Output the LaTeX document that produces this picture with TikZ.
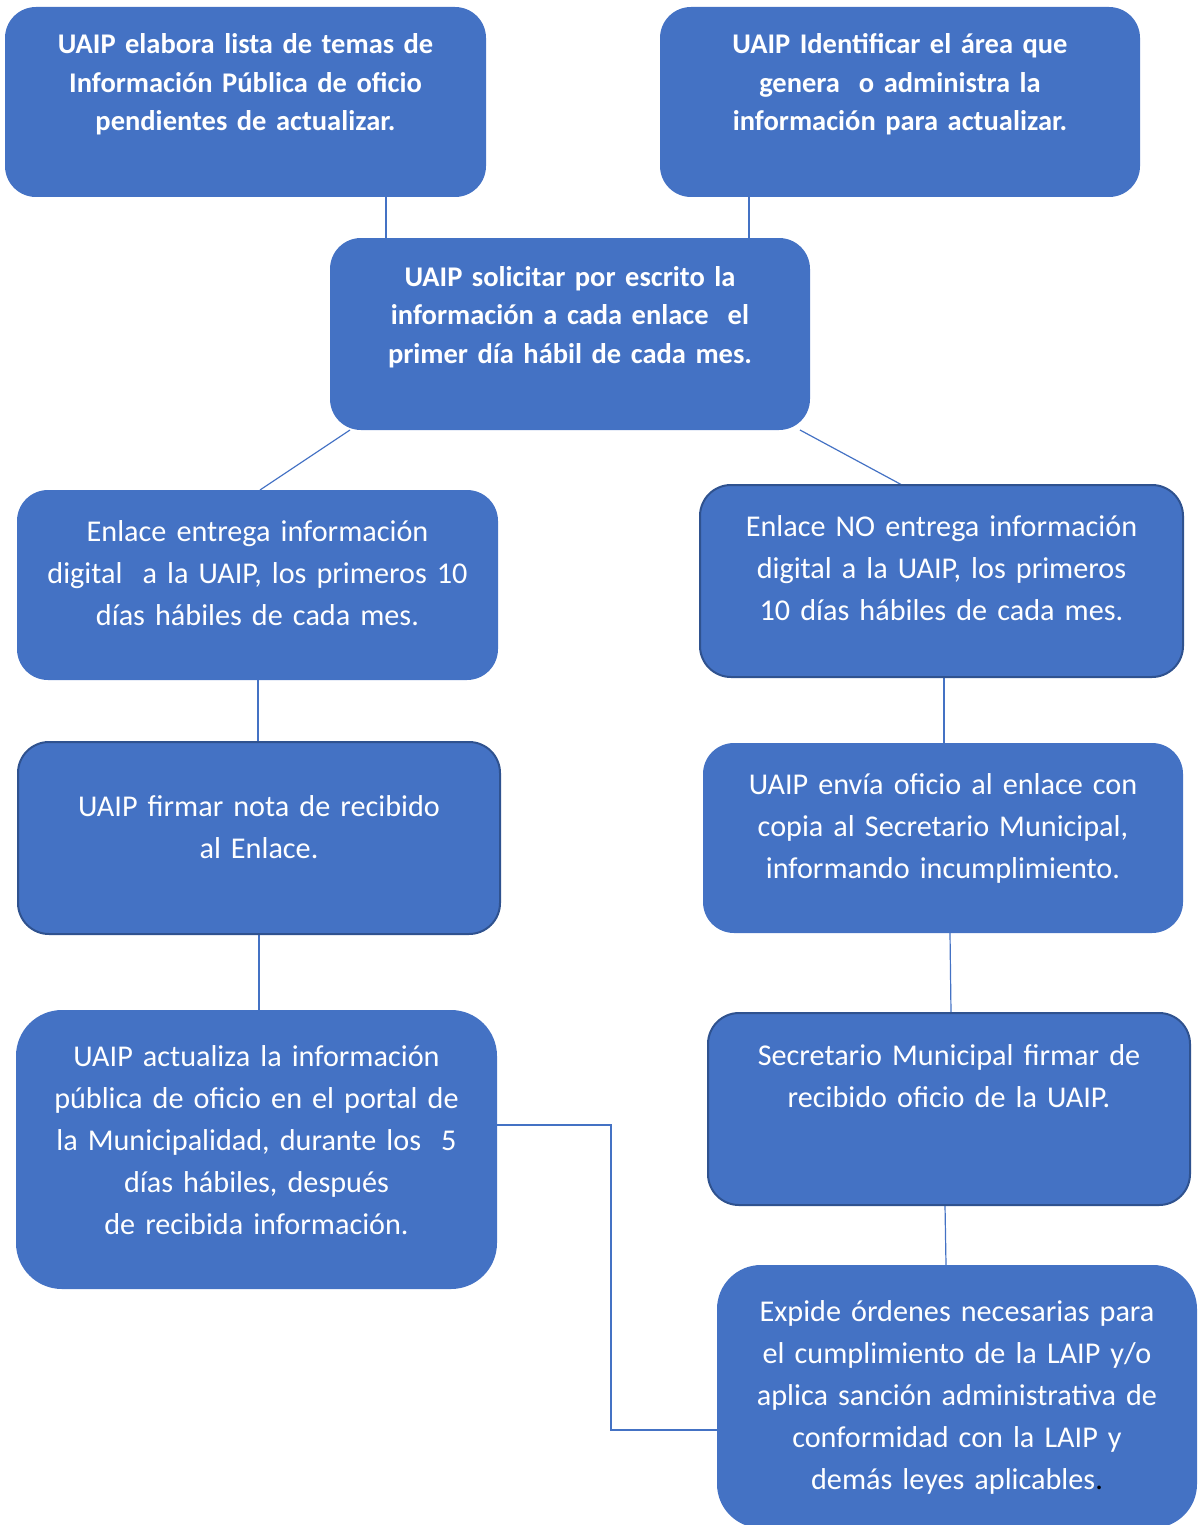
\documentclass[tikz,border=0pt]{standalone}
\usepackage{fontspec}
\setmainfont[WordSpace=0.9]{Carlito}
\usetikzlibrary{backgrounds}
\definecolor{azul}{HTML}{4472C4}
\definecolor{azuloscuro}{HTML}{2F528F}

\begin{document}
\begin{tikzpicture}[x=1pt,y=-1pt,
	caja/.style={rectangle,rounded corners=31pt,fill=azul,inner sep=0pt,outer sep=0pt},
	cajaborde/.style={caja,draw=azuloscuro,line width=2pt},
	texto/.style={text=white,align=center,text width=470pt,anchor=base,
		font=\fontsize{30.2}{42}\selectfont},
	textob/.style={texto,font=\fontsize{28.5}{38.5}\selectfont\bfseries},
	linea/.style={draw=azul,line width=1.2pt}]
	
	\useasboundingbox (0,0) rectangle (1197,1525);
	
	% Cajas
	\node[caja,minimum width=481,minimum height=190] (b1) at (245.5,102) {};
	\node[caja,minimum width=480,minimum height=190] (b2) at (900,102) {};
	\node[caja,minimum width=480,minimum height=192] (b3) at (570,334) {};
	\node[caja,minimum width=481,minimum height=190] (b4) at (257.5,585) {};
	\node[cajaborde,minimum width=483,minimum height=192] (b5) at (941.5,581) {};
	\node[cajaborde,minimum width=482,minimum height=192] (b6) at (259,838) {};
	\node[caja,minimum width=480,minimum height=190] (b7) at (943,838) {};
	\node[caja,rounded corners=46pt,minimum width=481,minimum height=279] (b8) at (256.5,1149.5) {};
	\node[cajaborde,minimum width=482,minimum height=192] (b9) at (949,1109) {};
	\node[caja,rounded corners=44pt,minimum width=480,minimum height=263] (b10) at (957,1396.5) {};
	
	% Textos
	\node[textob] (t1) at (245.5,54) {UAIP elabora lista de temas de\\Información Pública de oficio\\pendientes de actualizar.};
	\node[textob] (t2) at (900,54) {UAIP Identificar el área que\\genera\ \ o administra la\\información para actualizar.};
	\node[textob] (t3) at (570,286) {UAIP solicitar por escrito la\\información a cada enlace\ \ el\\primer día hábil de cada mes.};
	\node[texto] (t4) at (257.5,541) {Enlace entrega información\\digital\ \ a la UAIP, los primeros 10\\días hábiles de cada mes.};
	\node[texto] (t5) at (941.5,536) {Enlace NO entrega información\\digital a la UAIP, los primeros\\10 días hábiles de cada mes.};
	\node[texto] (t6) at (259,816) {UAIP firmar nota de recibido\\al Enlace.};
	\node[texto] (t7) at (943,794) {UAIP envía oficio al enlace con\\copia al Secretario Municipal,\\informando incumplimiento.};
	\node[texto] (t8) at (256.5,1066) {UAIP actualiza la información\\pública de oficio en el portal de\\la Municipalidad, durante los\ \ 5\\días hábiles, después\\de recibida información.};
	\node[texto] (t9) at (949,1065) {Secretario Municipal firmar de\\recibido oficio de la UAIP.};
	\node[texto] (t10) at (957,1321) {Expide órdenes necesarias para\\el cumplimiento de la LAIP y/o\\aplica sanción administrativa de\\conformidad con la LAIP y\\demás leyes aplicables\textcolor{black}{.}};
	
	% Conectores
	\coordinate (codo) at (611,1430);
	\begin{scope}[on background layer]
		\draw[linea] ([xshift=140.5]b1.south) -- ([xshift=-184]b3.north);
		\draw[linea] ([xshift=-151]b2.south) -- ([xshift=179]b3.north);
		\draw[linea] ([xshift=-220]b3.south) -- ([xshift=2.5]b4.north);
		\draw[linea] ([xshift=230]b3.south) -- ([xshift=-39.5]b5.north);
		\draw[linea] ([xshift=0.5]b4.south) -- ([xshift=-1]b6.north);
		\draw[linea] ([xshift=2.5]b5.south) -- ([xshift=1]b7.north);
		\draw[linea] (b6.south) -- ([xshift=2.5]b8.north);
		\draw[linea] ([xshift=7]b7.south) -- ([xshift=2]b9.north);
		\draw[linea] ([xshift=-4]b9.south) -- ([xshift=-11]b10.north);
		\draw[linea] ([yshift=24.5]b8.east) -| (codo) -- ([yshift=-33.5]b10.west);
	\end{scope}
\end{tikzpicture}
\end{document}
